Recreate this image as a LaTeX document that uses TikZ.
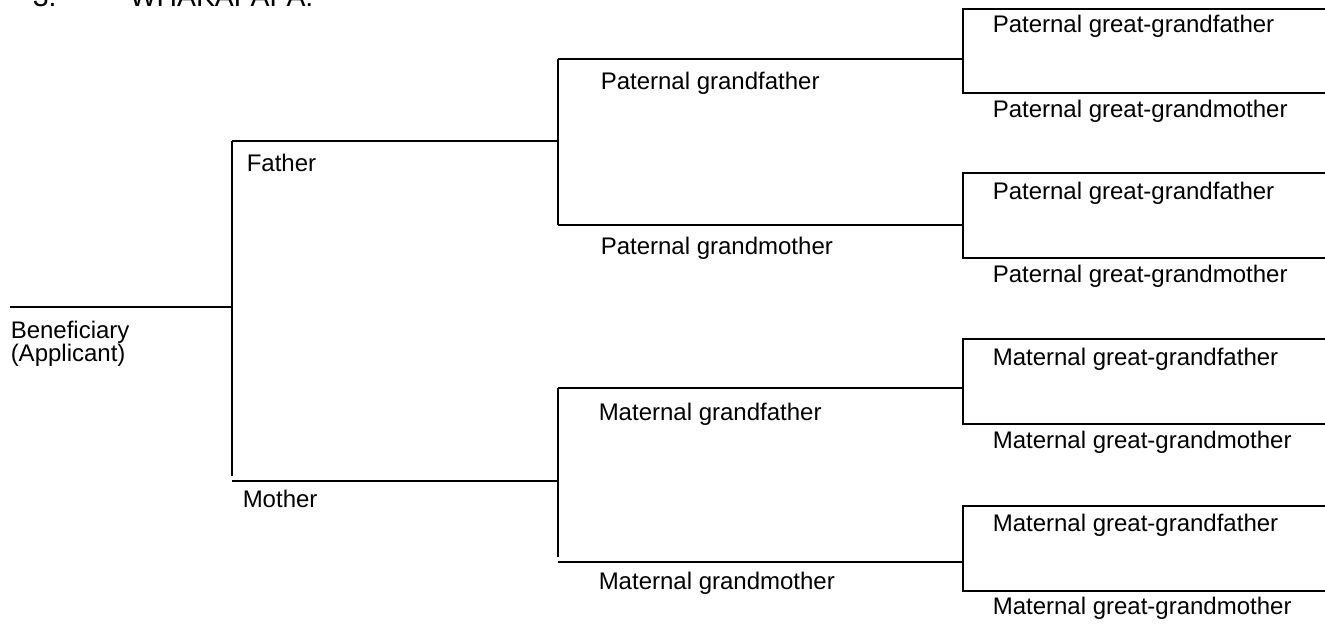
\documentclass[tikz,border=0pt]{standalone}
\usepackage{fontspec}
\setmainfont{Liberation Sans}
\begin{document}
\begin{tikzpicture}[x=1pt, y=-1pt, line width=1.5pt, line join=miter, line cap=butt,
	font=\fontsize{24}{27}\selectfont,
	lbl/.style={anchor=base west, inner sep=0pt}]
	\useasboundingbox (0,0) rectangle (1325,626);

	% heading, cut off by the page edge
	\node[lbl, font=\fontsize{28.4}{32}\selectfont] (num) at (32,7) {3.};
	\node[lbl, font=\fontsize{28.4}{32}\selectfont] (head) at (129,7) {WHAKAPAPA:};

	\path
	(10,307) coordinate (ben)
	(232,307) coordinate (benR)
	(232,141) coordinate (fa)
	(232,476) coordinate (faEnd)
	(232,481) coordinate (mo)
	(558,141) coordinate (faR)
	(558,481) coordinate (moR)
	(558,59) coordinate (pgf)
	(558,225) coordinate (pgm)
	(558,388) coordinate (mgf)
	(558,557) coordinate (mgEnd)
	(558,562) coordinate (mgm)
	(963,59) coordinate (pgfR)
	(963,225) coordinate (pgmR)
	(963,388) coordinate (mgfR)
	(963,562) coordinate (mgmR)
	;

	\draw (ben)--(benR) (fa)--(faEnd) (fa)--(faR) (mo)--(moR);
	\draw (pgf)--(pgm) (pgf)--(pgfR) (pgm)--(pgmR);
	\draw (mgf)--(mgEnd) (mgf)--(mgfR) (mgm)--(mgmR);

	\foreach \g/\t/\b in {pgf/9/93, pgm/173/258, mgf/339/424, mgm/506/591}{
		\coordinate (\g T) at (963,\t);
		\coordinate (\g B) at (963,\b);
		\coordinate (\g TE) at (1325,\t);
		\coordinate (\g BE) at (1325,\b);
		\draw (\g TE)--(\g T)--(\g B)--(\g BE);
	}

	\foreach \n/\x/\y/\t in {benA/10/338/Beneficiary, benB/10/361/(Applicant),
		faL/246/171/Father, moL/242/507/Mother,
		pgfL/600/89/Paternal grandfather, pgmL/600/254/Paternal grandmother,
		mgfL/598/420/Maternal grandfather, mgmL/598/589/Maternal grandmother,
		pgfa/992/33/Paternal great-grandfather, pgfb/992/117/Paternal great-grandmother,
		pgma/992/199/Paternal great-grandfather, pgmb/992/282/Paternal great-grandmother,
		mgfa/992/365/Maternal great-grandfather, mgfb/992/448/Maternal great-grandmother,
		mgma/992/531/Maternal great-grandfather, mgmb/992/614/Maternal great-grandmother}
	\node[lbl] (\n) at (\x,\y) {\t};
\end{tikzpicture}
\end{document}
